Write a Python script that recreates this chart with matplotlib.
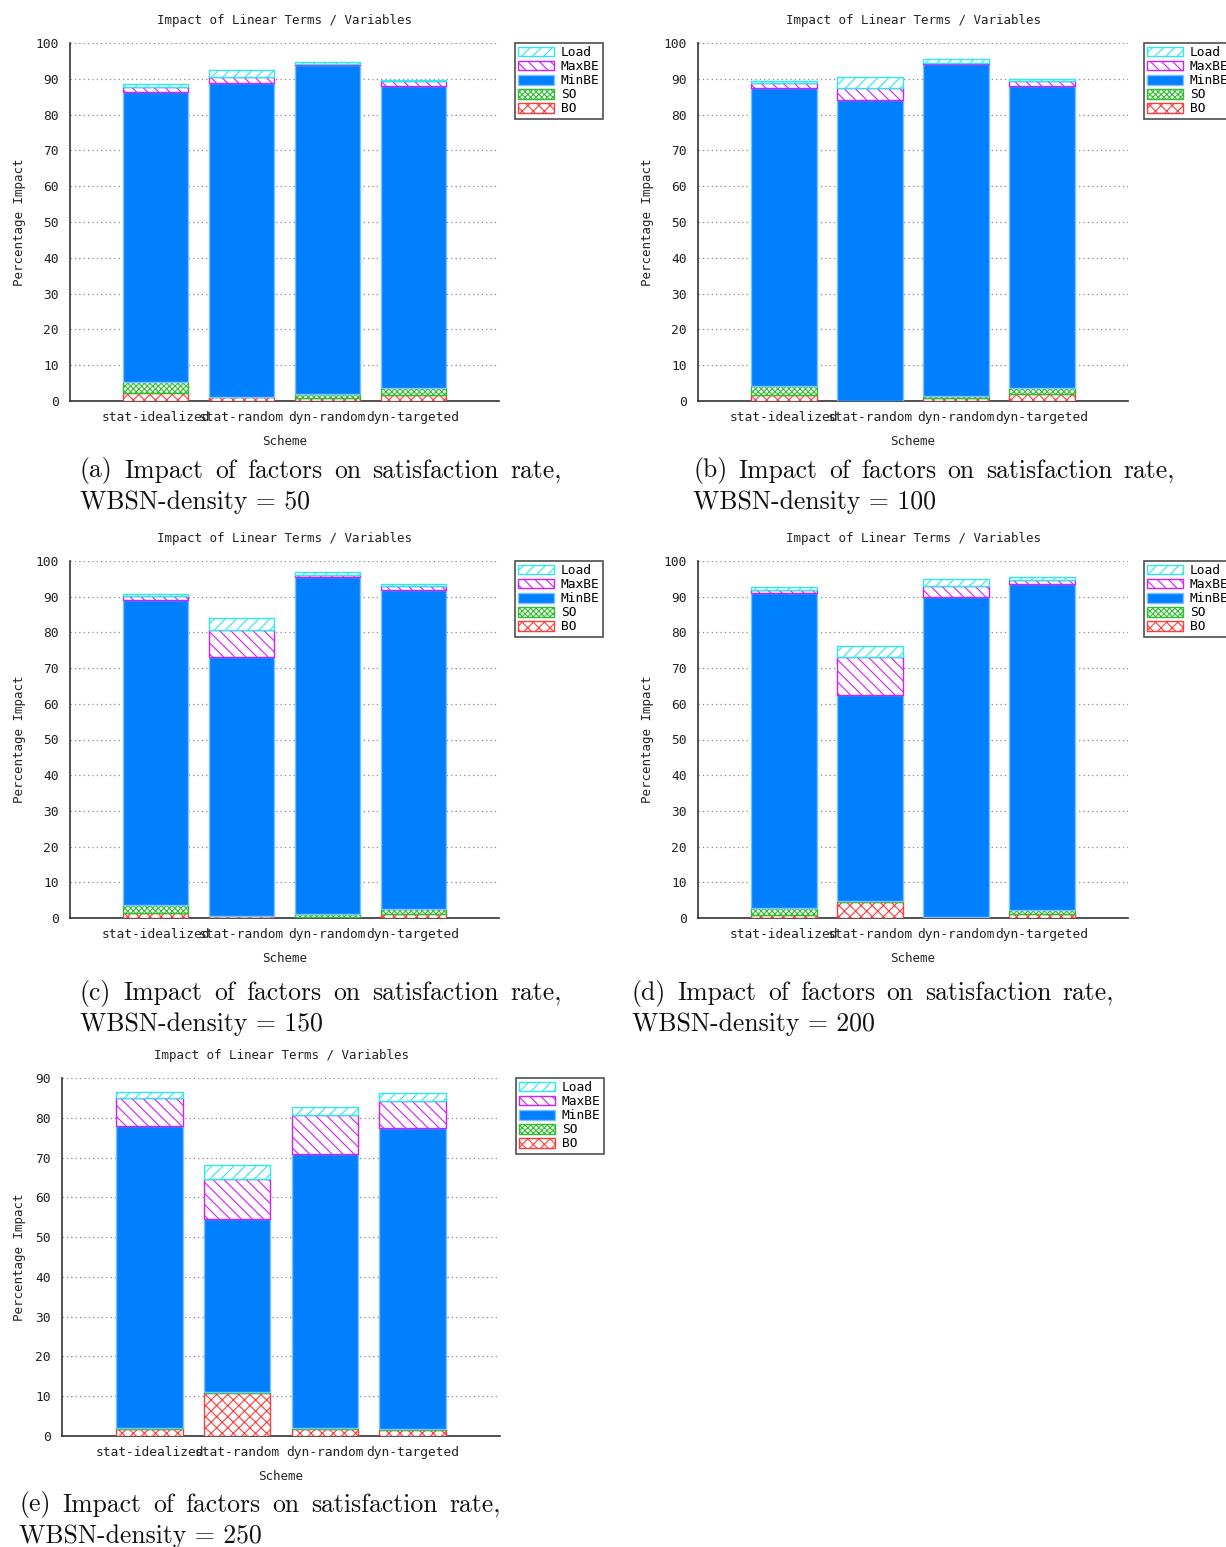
import numpy as np
import matplotlib
matplotlib.use("Agg")
import matplotlib.pyplot as plt
from matplotlib.patches import Patch

plt.rcParams['hatch.linewidth'] = 0.8
plt.rcParams['font.family'] = ['DejaVu Sans Mono']

# Esquemas y densidades
schemes = ['stat-idealized', 'stat-random', 'dyn-random', 'dyn-targeted']
densities = [50, 100, 150, 200, 250]
letters = ['a', 'b', 'c', 'd', 'e']

# Aporte de cada termino (en %), un valor por esquema
bo = [
    [2.1, 1.0, 0.8, 1.6],
    [1.7, 0.0, 0.7, 1.9],
    [1.4, 0.5, 0.3, 1.1],
    [0.9, 4.4, 0.3, 1.1],
    [1.8, 10.9, 1.8, 1.6],
]
so = [
    [3.1, 0.2, 1.2, 2.1],
    [2.6, 0.0, 0.8, 1.8],
    [2.3, 0.1, 0.8, 1.5],
    [1.9, 0.3, 0.0, 1.2],
    [0.1, 0.2, 0.1, 0.2],
]
minbe = [
    [81.0, 87.7, 91.9, 84.3],
    [83.2, 84.1, 92.6, 84.3],
    [85.3, 72.5, 94.3, 89.4],
    [88.2, 57.9, 89.7, 91.2],
    [76.0, 43.4, 69.1, 75.7],
]
maxbe = [
    [1.6, 1.7, 0.3, 1.3],
    [1.4, 3.4, 0.4, 1.3],
    [1.2, 7.6, 0.6, 0.9],
    [1.0, 10.5, 2.9, 1.2],
    [7.1, 10.2, 9.7, 6.7],
]
load = [
    [0.7, 1.9, 0.5, 0.4],
    [0.4, 2.9, 0.9, 0.6],
    [0.6, 3.3, 0.8, 0.7],
    [0.6, 3.0, 2.0, 0.8],
    [1.5, 3.4, 2.0, 2.1],
]
ymax = [100, 100, 100, 100, 90]

# estilo de cada termino: (etiqueta, relleno, borde, trama)
estilos = [
    ('BO', 'white', '#ff3b3b', 'xxx'),
    ('SO', 'white', '#2fc02f', 'xxxxxx'),
    ('MinBE', '#0080ff', '#7cc0ff', None),
    ('MaxBE', 'white', '#d21eff', '\\\\\\'),
    ('Load', 'white', '#30e8e8', '///'),
]

W, H = 1226, 1547
fig = plt.figure(figsize=(W / 100, H / 100), dpi=100)
renderer = fig.canvas.get_renderer()

# cajas de ejes en pixeles: izquierda, arriba, derecha, abajo
cajas = [
    (70, 43, 499, 401),
    (698, 43, 1128, 401),
    (70, 561, 499, 918),
    (698, 561, 1128, 918),
    (62, 1078, 500, 1436),
]
captions_xy = [(80, 471), (693, 471), (80, 993), (632, 993), (19, 1505)]
ancho_caption = 482
serif = ['cmr10', 'DejaVu Serif']
cap_size = 18.5


def caja_fig(l, t, r, b):
    return [l / W, 1 - b / H, (r - l) / W, (b - t) / H]


def linea_justificada(texto, x0, y, ancho):
    # reparte el espacio sobrante entre las palabras
    palabras = texto.split(' ')
    objs = [fig.text(0, 1 - y / H, p, family=serif, fontsize=cap_size,
                     va='center', ha='left', color='#111111')
            for p in palabras]
    anchos = [o.get_window_extent(renderer).width for o in objs]
    hueco = (ancho - sum(anchos)) / (len(palabras) - 1)
    xp = x0
    for o, a in zip(objs, anchos):
        o.set_x(xp / W)
        xp += a + hueco


x = np.arange(len(schemes))
for i, d in enumerate(densities):
    ax = fig.add_axes(caja_fig(*cajas[i]))
    capas = [bo[i], so[i], minbe[i], maxbe[i], load[i]]
    base = np.zeros(len(schemes))
    for vals, (lab, fc, ec, hatch) in zip(capas, estilos):
        vals = np.array(vals)
        ax.bar(x, vals, width=0.76, bottom=base, color=fc, edgecolor=ec,
               hatch=hatch, linewidth=1.0, zorder=3)
        base = base + vals

    ax.set_xlim(-1, 4)
    ax.set_ylim(0, ymax[i])
    ax.set_yticks(np.arange(0, ymax[i] + 1, 10))
    ax.set_xticks(x)
    ax.set_xticklabels(schemes, fontsize=9.3, color='#222222')
    ax.tick_params(axis='both', length=0, labelsize=9.3, colors='#222222')
    ax.tick_params(axis='y', pad=8)
    ax.tick_params(axis='x', pad=7)
    ax.grid(True, axis='y', linestyle=(0, (1, 2.5)), color='#888888',
            linewidth=0.9, zorder=0)
    for s in ['top', 'right']:
        ax.spines[s].set_visible(False)
    for s in ['left', 'bottom']:
        ax.spines[s].set_color('#333333')
        ax.spines[s].set_linewidth(1.2)

    ax.set_title('Impact of Linear Terms / Variables', fontsize=9, pad=14,
                 color='#222222')
    ax.set_xlabel('Scheme', fontsize=9, labelpad=8, color='#222222')
    ax.set_ylabel('Percentage Impact', fontsize=9, labelpad=7,
                  color='#222222')

    # leyenda fuera del area, Load arriba
    handles = [Patch(facecolor=fc, edgecolor=ec, hatch=h, label=lab)
               for lab, fc, ec, h in reversed(estilos)]
    l, t, r, b = cajas[i]
    leg = ax.legend(handles=handles, loc='upper left',
                    bbox_to_anchor=(1 + 16 / (r - l), 1.0),
                    borderaxespad=0, fontsize=9.3, frameon=True,
                    fancybox=False, edgecolor='#222222', handlelength=2.8,
                    handleheight=0.75, handletextpad=0.5, labelspacing=0.08,
                    borderpad=0.25)
    leg.get_frame().set_linewidth(1.2)

    cx, cy = captions_xy[i]
    linea_justificada(f'({letters[i]}) Impact of factors on satisfaction rate,',
                      cx, cy, ancho_caption)
    fig.text(cx / W, 1 - (cy + 31) / H, f'WBSN-density = {d}',
             family=serif, fontsize=cap_size, va='center', ha='left',
             color='#111111')

fig.savefig('out.png', dpi=100)
